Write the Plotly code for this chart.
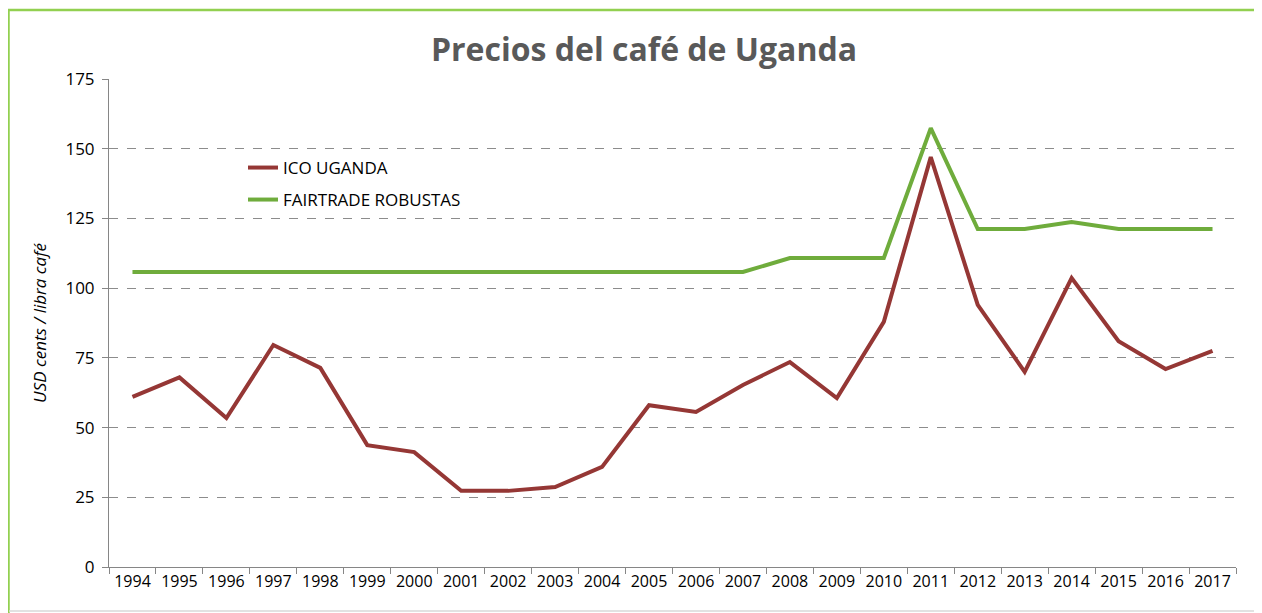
import plotly.graph_objects as go

years = [str(y) for y in range(1994, 2018)]
ico_uganda = [61, 68, 53.4, 79.6, 71.4, 43.7, 41.2, 27.3, 27.3, 28.7, 35.9, 58, 55.6, 65.3,
              73.5, 60.6, 87.9, 147, 94, 70, 103.6, 81, 71, 77.5]
fairtrade = [105.8] * 14 + [110.8, 110.8, 110.8, 157.4, 121.2, 121.2, 123.7, 121.2, 121.2, 121.2]
y_ticks = [0, 25, 50, 75, 100, 125, 150, 175]

# the page body adds an 8px offset, so work in shifted coordinates
OFF = 8
W, H = 1262 - OFF, 613 - OFF
L, T = 109 - OFF, 79 - OFF
R = W - (1236 - OFF)
B = H - (567 - OFF)
pw, ph = W - L - R, H - T - B


def px(x):
    return (x - OFF - L) / pw


def py(y):
    return 1 - (y - OFF - T) / ph


font = "Open Sans"
fig = go.Figure()
fig.add_trace(go.Scatter(x=years, y=ico_uganda, mode="lines", name="ICO UGANDA",
                         line=dict(color="#953735", width=4), legend="legend"))
fig.add_trace(go.Scatter(x=years, y=fairtrade, mode="lines", name="FAIRTRADE ROBUSTAS",
                         line=dict(color="#6FAC3C", width=4), legend="legend2"))

leg_common = dict(xanchor="left", yanchor="middle", bgcolor="rgba(0,0,0,0)",
                  font=dict(size=17, family=font, color="black"), itemwidth=30)
fig.update_layout(
    width=W, height=H,
    margin=dict(l=L, r=R, t=T, b=B, autoexpand=False),
    paper_bgcolor="white", plot_bgcolor="white",
    font=dict(family=font, size=16, color="black"),
    title=dict(text="<b>Precios del café de Uganda</b>", x=px(644), xanchor="center",
               xref="paper", y=1 - (50 - OFF) / H, yanchor="middle",
               font=dict(size=32, color="#595959", family=font)),
    showlegend=True,
    legend=dict(x=px(243), y=py(168), **leg_common),
    legend2=dict(x=px(243), y=py(200), **leg_common),
    xaxis=dict(type="category", range=[-0.5, len(years) - 0.5], showgrid=False,
               showline=True, linecolor="#868686", linewidth=1, ticks="outside",
               tickson="boundaries", ticklen=6, tickcolor="#868686", tickangle=0,
               automargin=False, tickfont=dict(size=16), fixedrange=True),
    yaxis=dict(range=[0, 175], tickvals=y_ticks, showgrid=True, gridcolor="#8C8C8C",
               griddash="dash", gridwidth=1, showline=True, linecolor="#868686",
               ticks="outside", ticklen=6, tickcolor="#868686", zeroline=False,
               automargin=False, tickfont=dict(size=17), ticklabelstandoff=4,
               title=dict(text="<i>USD cents / libra café</i>", font=dict(size=17),
                          standoff=14)),
)

# outer green frame of the chart area
fig.add_shape(type="rect", xref="paper", yref="paper",
              x0=px(8.5), x1=px(1270), y0=py(640), y1=py(10),
              line=dict(color="#92D050", width=2.5), fillcolor="rgba(0,0,0,0)", layer="below")
fig.add_shape(type="line", xref="paper", yref="paper",
              x0=px(9), x1=px(1262), y0=py(611), y1=py(611),
              line=dict(color="#D9D9D9", width=1.5))

fig.write_html("out.html")
